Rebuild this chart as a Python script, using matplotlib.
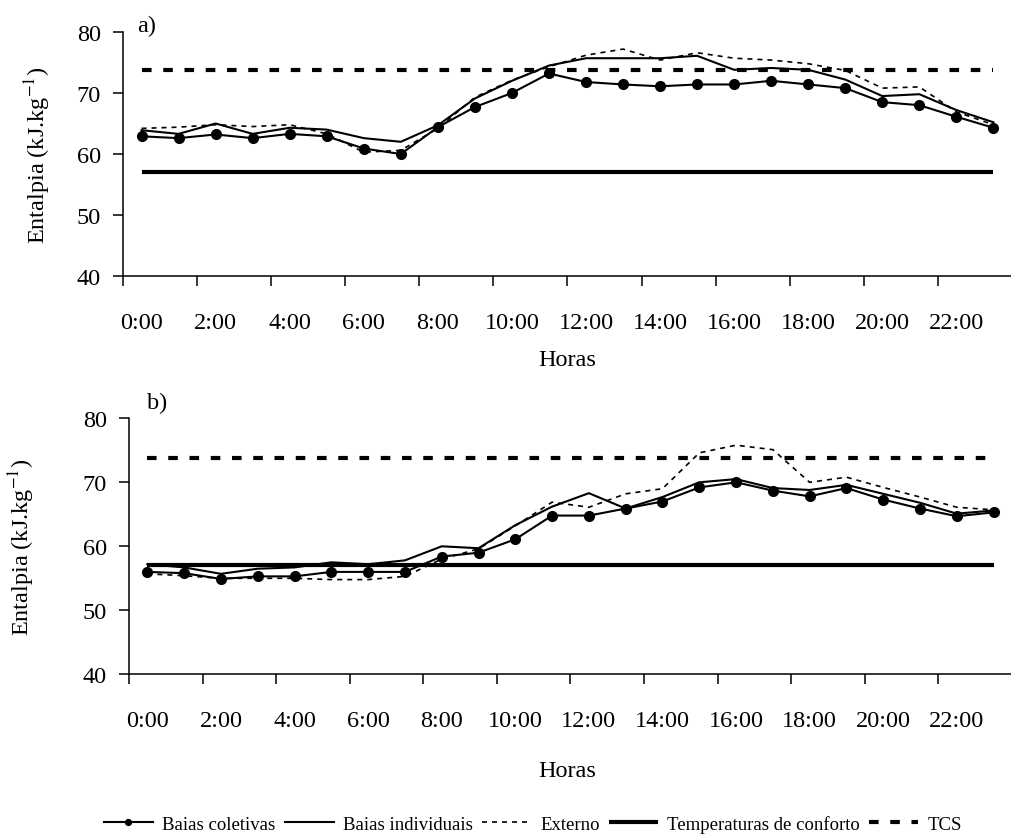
import matplotlib
matplotlib.use("Agg")
import matplotlib.pyplot as plt

plt.rcParams['font.family'] = ['Liberation Serif', 'DejaVu Serif']
plt.rcParams['mathtext.fontset'] = 'stix'

horas = ['%d:00' % h for h in range(24)]

# a)
a_coletivas = [62.9, 62.6, 63.2, 62.6, 63.3, 62.9, 60.9, 60.0, 64.4, 67.7, 70.0, 73.2,
               71.8, 71.4, 71.1, 71.4, 71.4, 72.0, 71.4, 70.8, 68.5, 68.0, 66.1, 64.3]
a_individuais = [63.9, 63.3, 65.0, 63.3, 64.3, 64.0, 62.6, 62.0, 64.7, 69.1, 72.0, 74.5,
                 75.7, 75.7, 75.7, 76.1, 73.8, 74.1, 73.8, 72.2, 69.5, 69.8, 67.2, 65.2]
a_externo = [64.2, 64.4, 64.8, 64.5, 64.8, 63.3, 60.3, 60.6, 64.2, 69.3, 72.1, 74.3,
             76.2, 77.2, 75.4, 76.6, 75.7, 75.4, 74.8, 73.7, 70.8, 71.0, 66.9, 64.8]

# b)
b_coletivas = [56.0, 55.8, 54.9, 55.3, 55.3, 56.0, 56.0, 56.0, 58.4, 59.0, 61.1, 64.8,
               64.8, 65.9, 67.0, 69.2, 70.0, 68.7, 67.8, 69.1, 67.3, 65.9, 64.7, 65.3]
b_individuais = [57.2, 56.7, 55.7, 56.5, 56.7, 57.5, 57.2, 57.8, 60.0, 59.7, 63.3, 66.2,
                 68.3, 65.9, 67.7, 70.0, 70.5, 69.1, 68.8, 69.6, 68.2, 66.8, 65.1, 65.6]
b_externo = [55.7, 55.4, 55.0, 55.0, 55.0, 54.8, 54.8, 55.3, 58.0, 59.6, 63.2, 66.9,
             66.1, 68.2, 69.0, 74.6, 75.8, 75.1, 70.0, 70.8, 69.2, 67.7, 66.1, 65.7]

conforto = 57.1
tcs = 73.8

W, H = 1012, 837
fig = plt.figure(figsize=(W / 100, H / 100), dpi=100)


def painel(rect, col, ind, ext, lab_x):
    ax = fig.add_axes(rect)
    x = list(range(len(horas)))
    ax.plot(x, [conforto] * len(x), color='black', lw=3.0, solid_capstyle='butt',
            label='Temperaturas de conforto', zorder=2)
    ax.plot(x, [tcs] * len(x), color='black', lw=3.0, linestyle=(0, (2.3, 2.8)),
            dash_capstyle='butt', label='TCS', zorder=2)
    ax.plot(x, ext, color='black', lw=1.2, linestyle=(0, (3, 3)), label='Externo', zorder=3)
    ax.plot(x, ind, color='black', lw=1.5, label='Baias individuais', zorder=4)
    ax.plot(x, col, color='black', lw=1.5, marker='o', markersize=7,
            label='Baias coletivas', zorder=5)
    ax.set_xlim(-0.5, 23.5)
    ax.set_ylim(40, 80)
    ax.set_yticks([40, 50, 60, 70, 80])
    ax.set_xticks([i - 0.5 for i in range(0, 25, 2)])
    ax.set_xticklabels([])
    ax.set_xticks(list(range(0, 24, 2)), minor=True)
    ax.set_xticklabels(horas[::2], minor=True)
    ax.tick_params(axis='x', which='minor', length=0, pad=26, labelsize=17.5)
    ax.tick_params(axis='x', which='major', length=7, width=1.1, direction='out')
    ax.tick_params(axis='y', length=7, width=1.1, direction='out', pad=9, labelsize=17.5)
    for s in ['top', 'right']:
        ax.spines[s].set_visible(False)
    for s in ['left', 'bottom']:
        ax.spines[s].set_linewidth(1.1)
    ax.set_ylabel('Entalpia (kJ.kg$^{-1}$)', fontsize=17.5)
    ax.yaxis.set_label_coords(lab_x, 0.5)
    return ax


ax1 = painel([123 / W, 1 - 277 / H, 889 / W, 244 / H], a_coletivas, a_individuais, a_externo, -0.079)
ax2 = painel([129 / W, 1 - 675.3 / H, 883 / W, 256 / H], b_coletivas, b_individuais, b_externo, -0.104)

fig.text(137 / W, 1 - 26 / H, 'a)', fontsize=17.5, va='center', ha='left')
fig.text(147 / W, 1 - 403 / H, 'b)', fontsize=17.5, va='center', ha='left')
fig.text(567 / W, 1 - 360 / H, 'Horas', fontsize=17.5, va='center', ha='center')
fig.text(567 / W, 1 - 772 / H, 'Horas', fontsize=17.5, va='center', ha='center')

h, l = ax1.get_legend_handles_labels()
ordem = [4, 3, 2, 0, 1]
fig.legend([h[i] for i in ordem], [l[i] for i in ordem], loc='center',
           bbox_to_anchor=(533 / W, 1 - 825 / H), ncol=5, frameon=False,
           fontsize=13.5, handlelength=2.6, handletextpad=0.5, columnspacing=0.5,
           markerscale=0.6)

fig.savefig('out.png', dpi=100)
